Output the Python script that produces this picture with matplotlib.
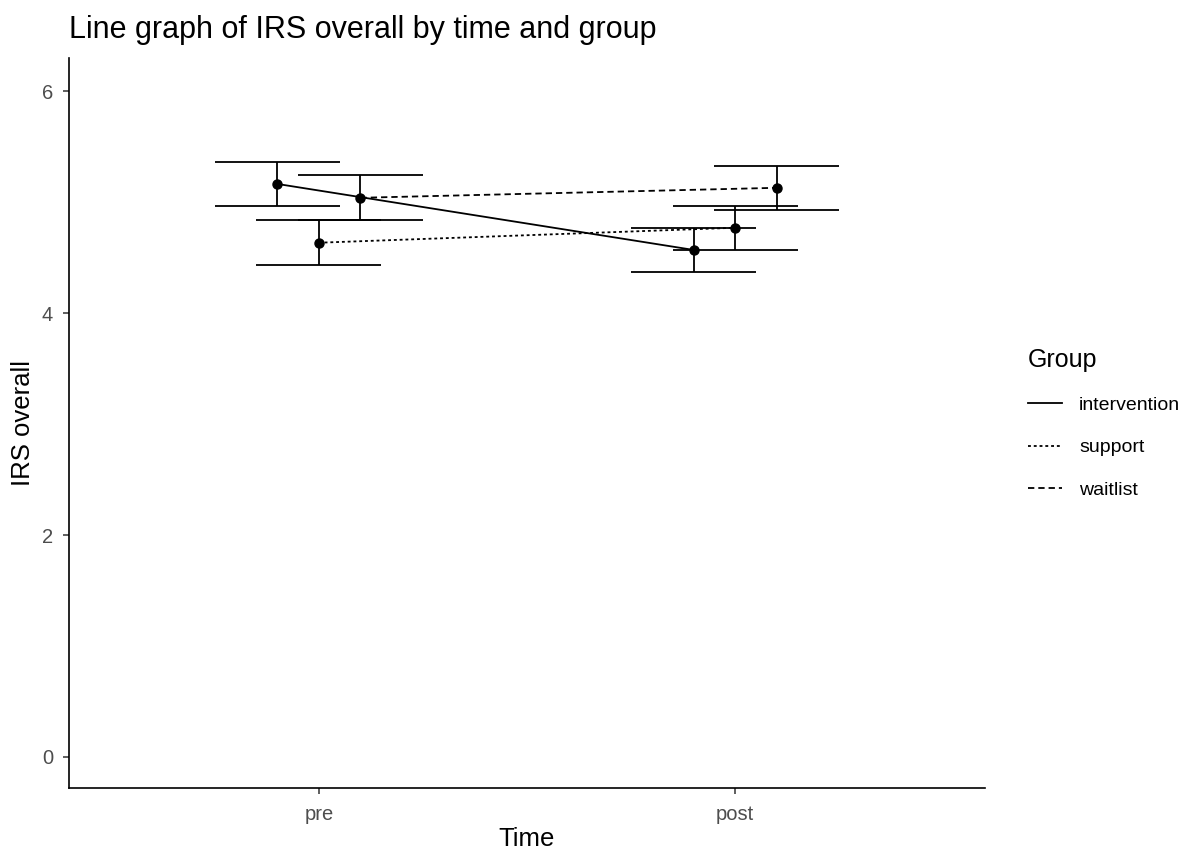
import matplotlib.pyplot as plt
import numpy as np

plt.rcParams['font.family'] = ['Liberation Sans', 'DejaVu Sans']

# mean IRS overall and standard error per group, pre and post
times = ['pre', 'post']
groups = ['intervention', 'support', 'waitlist']
means = {
    'intervention': [5.165, 4.57],
    'support': [4.635, 4.77],
    'waitlist': [5.04, 5.13],
}
errs = {
    'intervention': [0.202, 0.2],
    'support': [0.205, 0.198],
    'waitlist': [0.202, 0.2],
}

styles = {
    'intervention': '-',
    'support': (0, (1.6, 1.6)),
    'waitlist': (0, (3.5, 2.2)),
}
dodge = {'intervention': -0.1, 'support': 0.0, 'waitlist': 0.1}

fig = plt.figure(figsize=(11.85, 8.5), dpi=100)
ax = fig.add_axes([69 / 1185, 1 - 788 / 850, (985 - 69) / 1185, (788 - 58) / 850])

x = np.arange(1, len(times) + 1)
lw = 1.3
for g in groups:
    xs = x + dodge[g]
    ax.errorbar(xs, means[g], yerr=errs[g], fmt='none', ecolor='black',
                elinewidth=lw, capsize=0, zorder=2)
    # wide horizontal caps
    for xi, m, e in zip(xs, means[g], errs[g]):
        ax.hlines([m - e, m + e], xi - 0.15, xi + 0.15, colors='black', lw=lw, zorder=2)
    ax.plot(xs, means[g], color='black', lw=lw, linestyle=styles[g], label=g, zorder=3)
    ax.plot(xs, means[g], 'o', color='black', markersize=6.5, zorder=4)

ax.set_xlim(0.4, 2.6)
ax.set_ylim(-0.28, 6.3)
ax.set_xticks(x)
ax.set_xticklabels(times)
ax.set_yticks([0, 2, 4, 6])

for side in ['top', 'right']:
    ax.spines[side].set_visible(False)
for side in ['left', 'bottom']:
    ax.spines[side].set_linewidth(1.2)
ax.tick_params(axis='both', length=4.5, width=1.1, color='#333333',
               labelcolor='#4D4D4D', labelsize=14.5)
ax.tick_params(axis='x', pad=7.5)
ax.tick_params(axis='y', pad=7)

ax.set_xlabel('Time', fontsize=18.5, labelpad=2.5)
ax.set_ylabel('IRS overall', fontsize=18.5, labelpad=5)
fig.text(69 / 1185, 1 - 30 / 850, 'Line graph of IRS overall by time and group',
         fontsize=22, ha='left', va='center')

leg = fig.legend(loc='upper left', bbox_to_anchor=(1010 / 1185, 1 - 330 / 850),
                 frameon=False, title='Group', fontsize=14, title_fontsize=18,
                 handlelength=1.75, handletextpad=0.9, labelspacing=1.27,
                 alignment='left')
leg._legend_box.sep = 18

fig.savefig('out.png', dpi=100)
